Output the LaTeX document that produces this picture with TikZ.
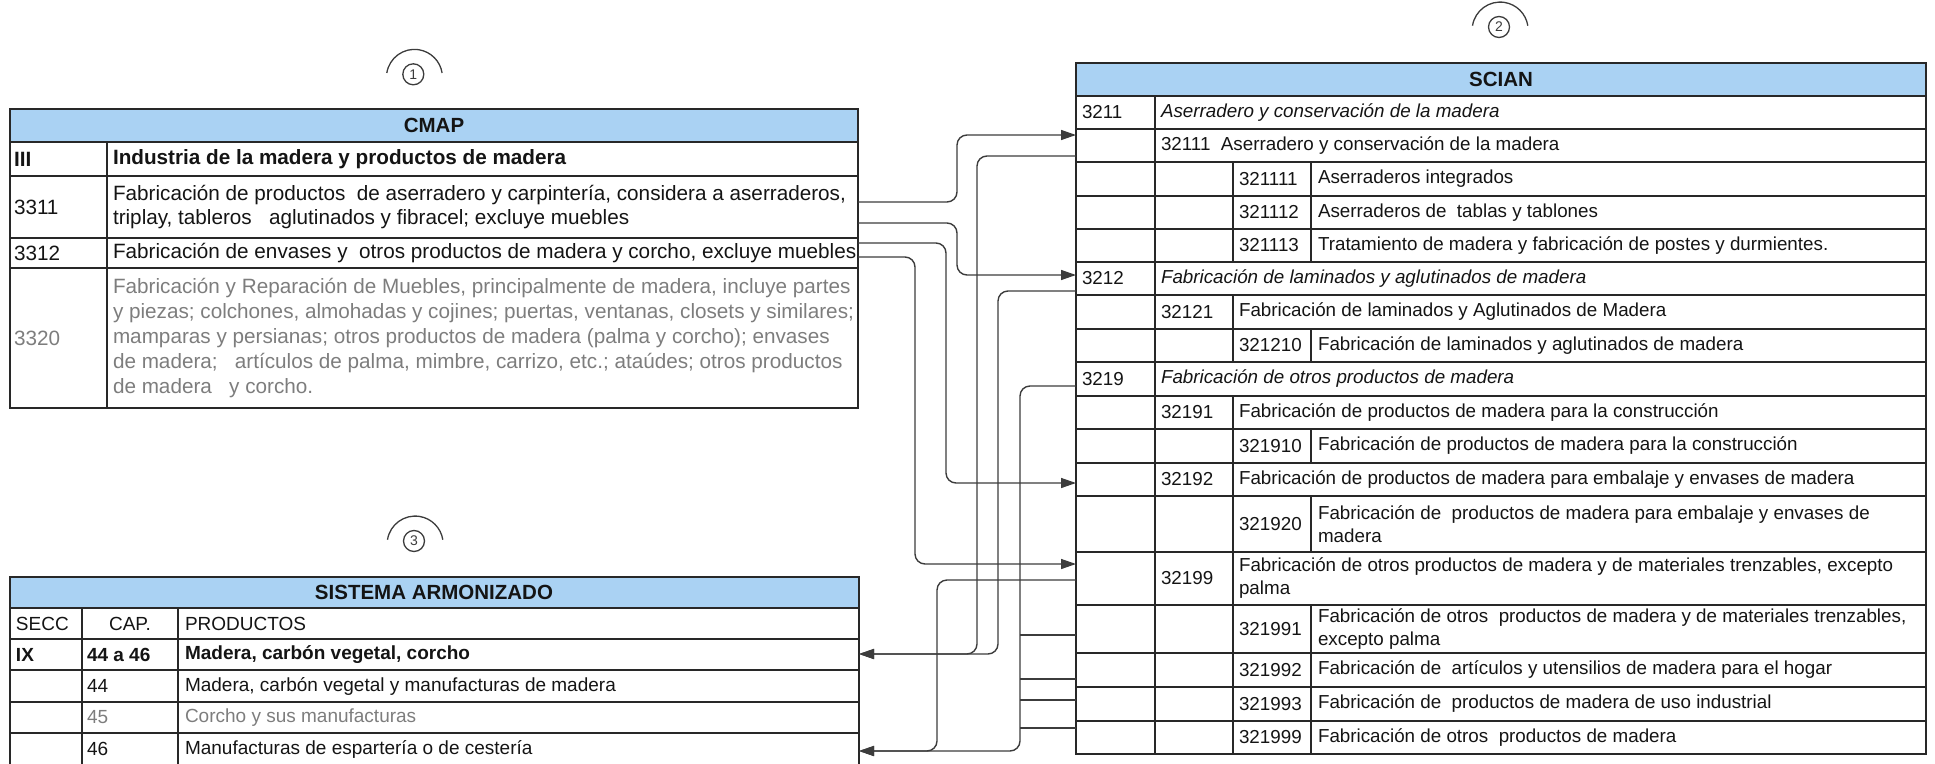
\documentclass[tikz,border=0pt]{standalone}
\usepackage{fontspec}
\setmainfont{Liberation Sans}
\usetikzlibrary{arrows.meta,fit}
\definecolor{linec}{RGB}{40,40,40}
\definecolor{connc}{RGB}{60,60,60}
\definecolor{headc}{RGB}{170,210,243}
\definecolor{txtc}{RGB}{20,20,20}
\definecolor{greyt}{RGB}{125,125,125}
\definecolor{iconc}{RGB}{60,60,60}
\newcommand{\rowbox}[6][rowb]{\node[#1,fit={(#3,#4) (#5,#6)}] (#2) {};}
\begin{document}
\begin{tikzpicture}[x=1pt,y=-1pt,
  rowb/.style={draw=linec,line width=1.8pt,inner sep=0pt,outer sep=0pt},
  headb/.style={rowb,fill=headc},
  tline/.style={draw=linec,line width=1.8pt},
  txt/.style={inner sep=0pt,outer sep=0pt,anchor=west,align=left,text=txtc},
  ctr/.style={txt,anchor=center,align=center},
  cmf/.style={font=\fontsize{20.7}{23.5}\selectfont},
  cmg/.style={font=\fontsize{20.7}{25}\selectfont,text=greyt},
  hdf/.style={font=\fontsize{20.5}{24}\selectfont\bfseries},
  scf/.style={font=\fontsize{18.8}{23}\selectfont},
  saf/.style={font=\fontsize{19}{22}\selectfont},
  conn/.style={draw=connc,line width=1.4pt,rounded corners=10pt},
  arr/.style={-{Triangle[length=15pt,width=10pt]}},
  iconring/.style={draw=iconc,line width=1.3pt},
  iconnum/.style={circle,draw=iconc,line width=1.3pt,minimum size=21pt,inner sep=0pt,text=iconc,font=\fontsize{14}{14}\selectfont},
]
\useasboundingbox (0,0) rectangle (1935,763);

% ---------------- icons
\node[iconnum] (i1) at (413.3,74.3) {1};
\draw[iconring] ([shift={(-26.5,-1.3)}]i1.center) arc[start angle=171,end angle=9,radius=28pt];
\node[iconnum] (i2) at (1499,27) {2};
\draw[iconring] ([shift={(-26.5,-1.3)}]i2.center) arc[start angle=171,end angle=9,radius=28pt];
\node[iconnum] (i3) at (414,541) {3};
\draw[iconring] ([shift={(-26.5,-1.3)}]i3.center) arc[start angle=171,end angle=9,radius=28pt];

% ---------------- CMAP
\rowbox[headb]{cmaph}{10}{109}{858}{142}
\rowbox{c3}{10}{142}{858}{176}
\rowbox{c3311}{10}{176}{858}{238}
\rowbox{c3312}{10}{238}{858}{268}
\rowbox{c3320}{10}{268}{858}{408}
\draw[tline] (107,142) -- (107,408);
\node[ctr,hdf] (tcmap) at (434,125.5) {CMAP};
\node[txt,cmf] (tc1a) at (14,159) {\bfseries III};
\node[txt,cmf] (tc1b) at (113,159) {\bfseries Industria de la madera y productos de madera};
\node[txt,cmf] (tc2a) at (14,207) {3311};
\node[txt,cmf] (tc2b) at (113,207) {Fabricación de productos~ de aserradero y carpintería, considera a aserraderos,\\triplay, tableros~~ aglutinados y fibracel; excluye muebles};
\node[txt,cmf] (tc3a) at (14,253) {3312};
\node[txt,cmf] (tc3b) at (113,253) {Fabricación de envases y~ otros productos de madera y corcho, excluye muebles};
\node[txt,cmg] (tc4a) at (14,338) {3320};
\node[txt,cmg] (tc4b) at (113,338) {Fabricación y Reparación de Muebles, principalmente de madera, incluye partes\\y piezas; colchones, almohadas y cojines; puertas, ventanas, closets y similares;\\mamparas y persianas; otros productos de madera (palma y corcho); envases\\de madera;~~ artículos de palma, mimbre, carrizo, etc.; ataúdes; otros productos\\de madera~~ y corcho.};

% ---------------- SCIAN
\rowbox[headb]{sh}{1076}{63}{1926}{96}
\rowbox{s3211}{1076}{96}{1926}{129}
\rowbox{s32111}{1076}{129}{1926}{162}
\rowbox{s321111}{1076}{162}{1926}{196}
\rowbox{s321112}{1076}{196}{1926}{229}
\rowbox{s321113}{1076}{229}{1926}{262}
\rowbox{s3212}{1076}{262}{1926}{295}
\rowbox{s32121}{1076}{295}{1926}{329}
\rowbox{s321210}{1076}{329}{1926}{362}
\rowbox{s3219}{1076}{362}{1926}{396}
\rowbox{s32191}{1076}{396}{1926}{429}
\rowbox{s321910}{1076}{429}{1926}{463}
\rowbox{s32192}{1076}{463}{1926}{496}
\rowbox{s321920}{1076}{496}{1926}{552}
\rowbox{s32199}{1076}{552}{1926}{605}
\rowbox{s321991}{1076}{605}{1926}{653}
\rowbox{s321992}{1076}{653}{1926}{687}
\rowbox{s321993}{1076}{687}{1926}{721}
\rowbox{s321999}{1076}{721}{1926}{754}
\draw[tline] (1155,96) -- (1155,754);
\draw[tline] (1233,162) -- (1233,262);
\draw[tline] (1311,162) -- (1311,262);
\draw[tline] (1233,295) -- (1233,362);
\draw[tline] (1311,329) -- (1311,362);
\draw[tline] (1233,396) -- (1233,754);
\draw[tline] (1311,429) -- (1311,463);
\draw[tline] (1311,496) -- (1311,552);
\draw[tline] (1311,605) -- (1311,754);
\node[ctr,hdf] (tscian) at (1501,79.5) {SCIAN};
\node[txt,scf] (ts1a) at (1082,112.5) {3211};
\node[txt,scf] (ts1b) at (1161,112.5) {\itshape Aserradero y conservación de la madera};
\node[txt,scf] (ts2b) at (1161,145.5) {32111~ Aserradero y conservación de la madera};
\node[txt,scf] (ts3a) at (1239,179) {321111};
\node[txt,scf] (ts3b) at (1318,179) {Aserraderos integrados};
\node[txt,scf] (ts4a) at (1239,212.5) {321112};
\node[txt,scf] (ts4b) at (1318,212.5) {Aserraderos de~ tablas y tablones};
\node[txt,scf] (ts5a) at (1239,245.5) {321113};
\node[txt,scf] (ts5b) at (1318,245.5) {Tratamiento de madera y fabricación de postes y durmientes.};
\node[txt,scf] (ts6a) at (1082,278.5) {3212};
\node[txt,scf] (ts6b) at (1161,278.5) {\itshape Fabricación de laminados y aglutinados de madera};
\node[txt,scf] (ts7a) at (1161,312) {32121};
\node[txt,scf] (ts7b) at (1239,312) {Fabricación de laminados y Aglutinados de Madera};
\node[txt,scf] (ts8a) at (1239,345.5) {321210};
\node[txt,scf] (ts8b) at (1318,345.5) {Fabricación de laminados y aglutinados de madera};
\node[txt,scf] (ts9a) at (1082,379) {3219};
\node[txt,scf] (ts9b) at (1161,379) {\itshape Fabricación de otros productos de madera};
\node[txt,scf] (ts10a) at (1161,412.5) {32191};
\node[txt,scf] (ts10b) at (1239,412.5) {Fabricación de productos de madera para la construcción};
\node[txt,scf] (ts11a) at (1239,446) {321910};
\node[txt,scf] (ts11b) at (1318,446) {Fabricación de productos de madera para la construcción};
\node[txt,scf] (ts12a) at (1161,479.5) {32192};
\node[txt,scf] (ts12b) at (1239,479.5) {Fabricación de productos de madera para embalaje y envases de madera};
\node[txt,scf] (ts13a) at (1239,524) {321920};
\node[txt,scf] (ts13b) at (1318,524) {Fabricación de~ productos de madera para embalaje y envases de\\madera};
\node[txt,scf] (ts14a) at (1161,578.5) {32199};
\node[txt,scf] (ts14b) at (1239,578.5) {Fabricación de otros productos de madera y de materiales trenzables, excepto\\palma};
\node[txt,scf] (ts15a) at (1239,629) {321991};
\node[txt,scf] (ts15b) at (1318,629) {Fabricación de otros~ productos de madera y de materiales trenzables,\\excepto palma};
\node[txt,scf] (ts16a) at (1239,670) {321992};
\node[txt,scf] (ts16b) at (1318,670) {Fabricación de~ artículos y utensilios de madera para el hogar};
\node[txt,scf] (ts17a) at (1239,704) {321993};
\node[txt,scf] (ts17b) at (1318,704) {Fabricación de~ productos de madera de uso industrial};
\node[txt,scf] (ts18a) at (1239,737.5) {321999};
\node[txt,scf] (ts18b) at (1318,737.5) {Fabricación de otros~ productos de madera};

% ---------------- SISTEMA ARMONIZADO
\rowbox[headb]{hh}{10}{577}{859}{608}
\rowbox{hsecc}{10}{608}{859}{639}
\rowbox{hix}{10}{639}{859}{670}
\rowbox{h44}{10}{670}{859}{702}
\rowbox{h45}{10}{702}{859}{733}
\rowbox{h46}{10}{733}{859}{769}
\draw[tline] (82,608) -- (82,769);
\draw[tline] (178,608) -- (178,769);
\node[ctr,hdf] (tsa) at (434,592.5) {SISTEMA ARMONIZADO};
\node[txt,saf] (th1a) at (16,623.5) {SECC};
\node[ctr,saf] (th1b) at (130,623.5) {CAP.};
\node[txt,saf] (th1c) at (185,623.5) {PRODUCTOS};
\node[txt,saf] (th2a) at (16,654.5) {\bfseries IX};
\node[txt,saf] (th2b) at (87,654.5) {\bfseries 44 a 46};
\node[txt,saf] (th2c) at (185,654.5) {\bfseries Madera, carbón vegetal, corcho};
\node[txt,saf] (th3b) at (87,686) {44};
\node[txt,saf] (th3c) at (185,686) {Madera, carbón vegetal y manufacturas de madera};
\node[txt,saf,text=greyt] (th4b) at (87,717.5) {45};
\node[txt,saf,text=greyt] (th4c) at (185,717.5) {Corcho y sus manufacturas};
\node[txt,saf] (th5b) at (87,749) {46};
\node[txt,saf] (th5c) at (185,749) {Manufacturas de espartería o de cestería};

% ---------------- connectors CMAP -> SCIAN
\draw[conn,arr] ([yshift=5pt]c3311.east) -- (957,202) -- (957,135) -- ([yshift=10.5pt]s32111.west);
\draw[conn,arr] ([yshift=-16pt]c3311.east) -- (957,223) -- (957,275) -- ([yshift=3.5pt]s3212.west);
\draw[conn,arr] ([yshift=10pt]c3312.east) -- (946,243) -- (946,483) -- ([yshift=-3.5pt]s32192.west);
\draw[conn,arr] ([yshift=-4pt]c3312.east) -- (915,257) -- (915,564) -- ([yshift=14.5pt]s32199.west);

% ---------------- connectors SCIAN -> SA
\draw[conn,arr] ([yshift=-10.5pt]s32111.west) -- (977,156) -- (977,654) -- ([yshift=0.5pt]hix.east);
\draw[conn,arr] ([yshift=-12.5pt]s3212.west) -- (998,291) -- (998,654) -- ([yshift=0.5pt]hix.east);
\draw[conn,arr] ([yshift=-7pt]s3219.west) -- (1020,386) -- (1020,751) -- (h46.east);
\draw[conn,arr] ([yshift=-1.5pt]s32199.west) -- (937,580) -- (937,751) -- (h46.east);
\coordinate (bus1) at (1020,635);
\coordinate (bus2) at (1020,679);
\coordinate (bus3) at (1020,700);
\coordinate (bus4) at (1020,728);
\draw[conn] ([yshift=-6pt]s321991.west) -- (bus1);
\draw[conn] ([yshift=-9pt]s321992.west) -- (bus2);
\draw[conn] ([yshift=4pt]s321993.west) -- (bus3);
\draw[conn] ([yshift=9.5pt]s321999.west) -- (bus4);
\end{tikzpicture}
\end{document}
